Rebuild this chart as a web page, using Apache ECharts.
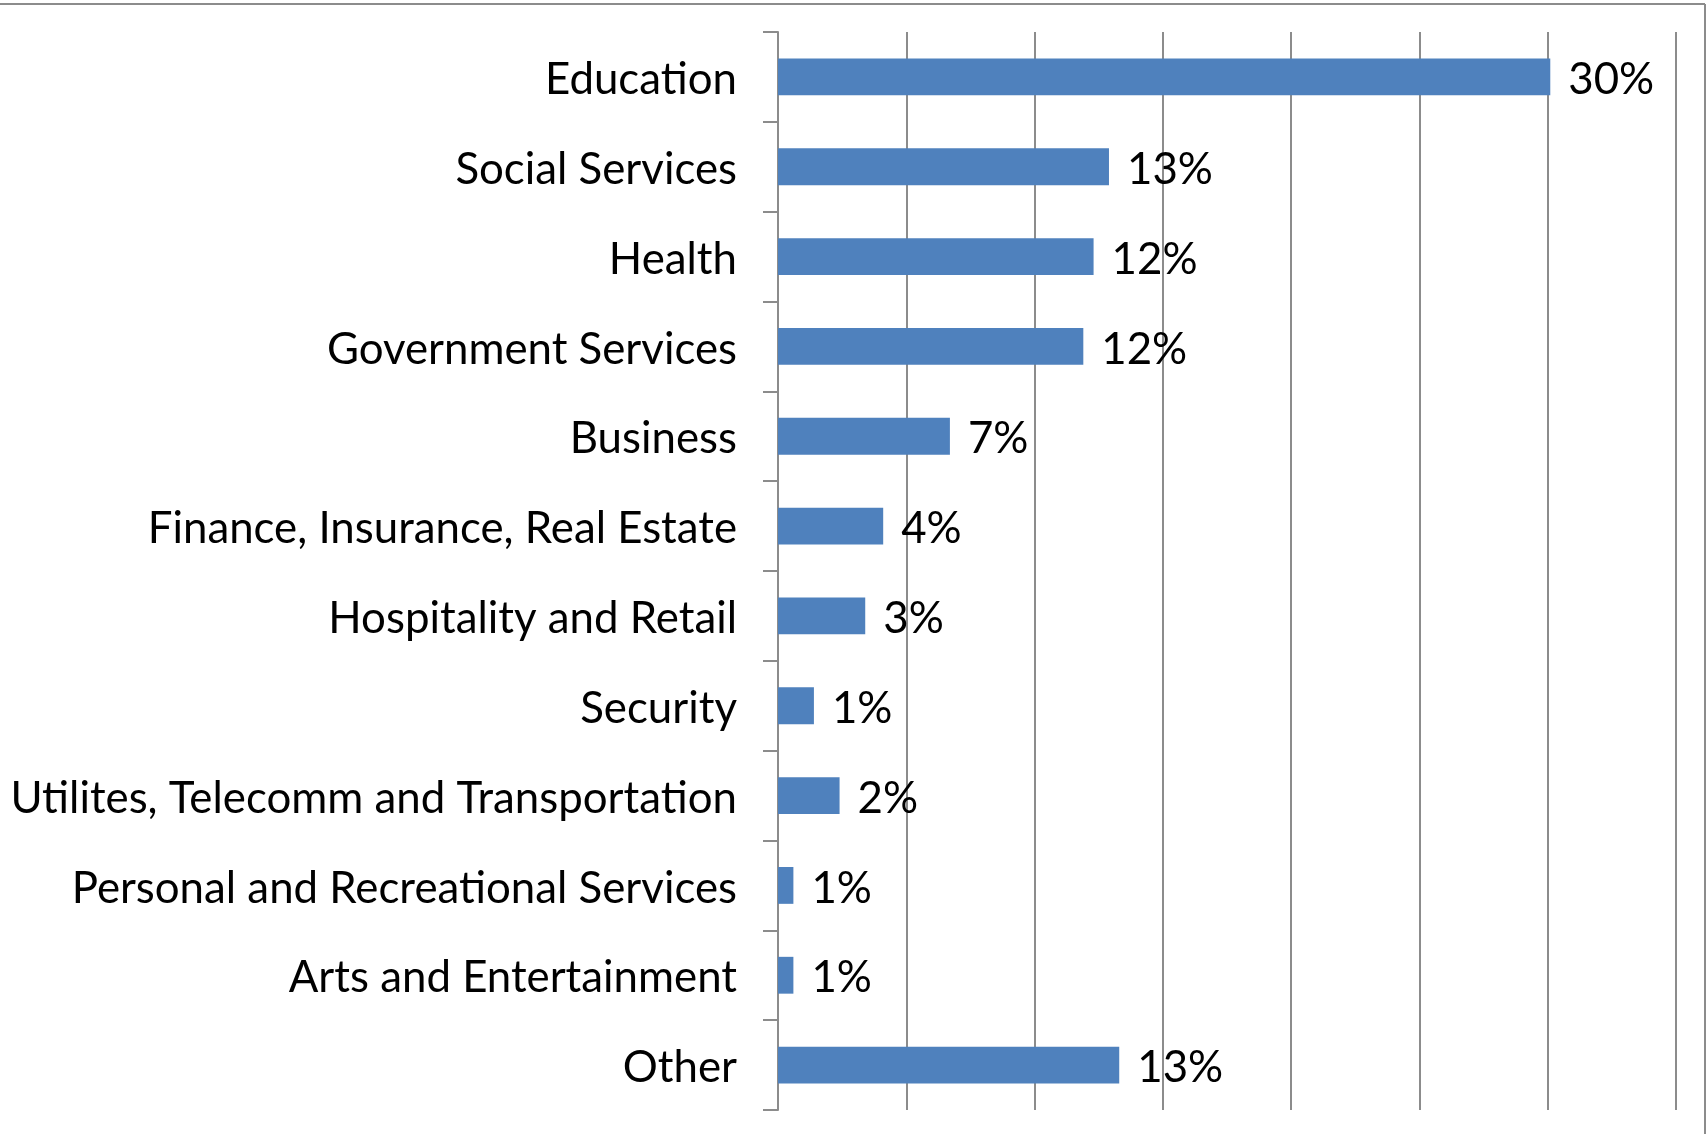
<!DOCTYPE html>
<html>
<head>
<meta charset="utf-8">
<script src="https://cdn.jsdelivr.net/npm/echarts@6/dist/echarts.min.js"></script>
<style>
html,body{margin:0;padding:0;background:#fff;}
#chart{width:1707px;height:1134px;}
</style>
</head>
<body>
<div id="chart"></div>
<script>
const categories = [
  "Education",
  "Social Services",
  "Health",
  "Government Services",
  "Business",
  "Finance, Insurance, Real Estate",
  "Hospitality and Retail",
  "Security",
  "Utilites, Telecomm and Transportation",
  "Personal and Recreational Services",
  "Arts and Entertainment",
  "Other"
];
const shareValues = [30.1, 12.9, 12.3, 11.9, 6.7, 4.1, 3.4, 1.4, 2.4, 0.6, 0.6, 13.3];
const valueLabels = ["30%", "13%", "12%", "12%", "7%", "4%", "3%", "1%", "2%", "1%", "1%", "13%"];

const FONT = "Lato";
// fit font size so that the longest category label spans about 726px
const cv = document.createElement("canvas").getContext("2d");
cv.font = "100px " + FONT;
const w100 = cv.measureText("Utilites, Telecomm and Transportation").width;
let fs = Math.round(726 / w100 * 100 * 10) / 10;
if (!(fs > 20 && fs < 60)) fs = 39;

const txtStyle = {color: "#000", fontFamily: FONT, fontSize: fs, padding: [6, 0, 0, 0]};

const chart = echarts.init(document.getElementById("chart"), null, {renderer: "canvas"});
const gray = "#8c8c8c";
chart.setOption({
  backgroundColor: "#ffffff",
  animation: false,
  graphic: [
    {type: "line", shape: {x1: -5, y1: 4, x2: 1705, y2: 4}, style: {stroke: gray, lineWidth: 2}},
    {type: "line", shape: {x1: 1705, y1: 4, x2: 1705, y2: 1140}, style: {stroke: gray, lineWidth: 2}}
  ],
  grid: {left: 778, right: 1707 - 1676, top: 32, bottom: 1134 - 1110, containLabel: false},
  xAxis: {
    type: "value",
    min: 0, max: 35, interval: 5,
    axisLabel: {show: false},
    axisLine: {show: false},
    axisTick: {show: false},
    splitLine: {show: true, lineStyle: {color: gray, width: 2}}
  },
  yAxis: {
    type: "category",
    data: categories,
    inverse: true,
    axisLine: {show: true, lineStyle: {color: gray, width: 2}},
    axisTick: {show: true, inside: false, length: 15, lineStyle: {color: gray, width: 2}},
    axisLabel: {
      margin: 41, color: "#000", fontFamily: FONT, fontSize: fs,
      formatter: v => "{t|" + v + "}",
      rich: {t: txtStyle}
    }
  },
  series: [{
    type: "bar",
    data: shareValues,
    barWidth: "41%",
    itemStyle: {color: "#4F81BD"},
    label: {
      show: true,
      position: "right",
      distance: 18,
      color: "#000",
      fontFamily: FONT,
      fontSize: fs,
      formatter: p => "{t|" + valueLabels[p.dataIndex] + "}",
      rich: {t: txtStyle}
    }
  }]
});
</script>
</body>
</html>
